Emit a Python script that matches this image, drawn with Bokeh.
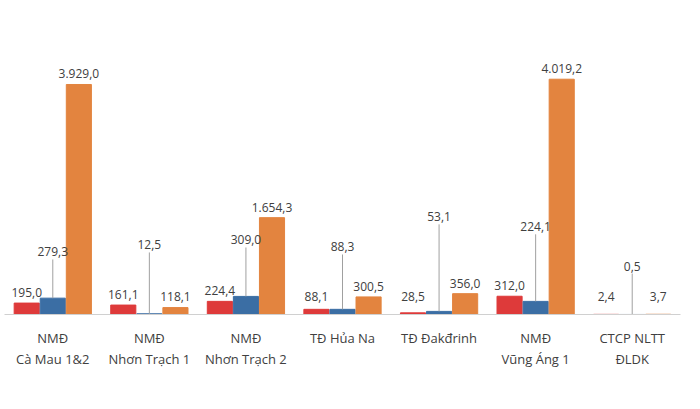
from bokeh.plotting import figure
from bokeh.models import ColumnDataSource, Label, Legend, LegendItem, FactorRange
from bokeh.transform import dodge
from bokeh.core.properties import value
from bokeh.embed import file_html
from bokeh.resources import INLINE

categories = ["NMĐ\nCà Mau 1&2", "NMĐ\nNhơn Trạch 1", "NMĐ\nNhơn Trạch 2", "TĐ Hủa Na",
              "TĐ Đakđrinh", "NMĐ\nVũng Áng 1", "CTCP NLTT\nĐLDK"]
ke_hoach = [195.0, 161.1, 224.4, 88.1, 28.5, 312.0, 2.4]
thuc_hien = [279.3, 12.5, 309.0, 88.3, 53.1, 224.1, 0.5]
luy_ke = [3929.0, 118.1, 1654.3, 300.5, 356.0, 4019.2, 3.7]
blue_label_y = [940, 1060, 1145, 1025, 1540, 1370, 700]

def fmt(v):
    s = f"{v:,.1f}"
    return s.replace(",", "X").replace(".", ",").replace("X", ".")

src = ColumnDataSource(dict(
    cat=categories, kh=ke_hoach, th=thuc_hien, lk=luy_ke,
    kh_t=[fmt(v) for v in ke_hoach], th_t=[fmt(v) for v in thuc_hien], lk_t=[fmt(v) for v in luy_ke],
    kh_y=[max(v, 120) for v in ke_hoach], lk_y=[max(v, 120) for v in luy_ke],
    bly=blue_label_y,
))

p = figure(x_range=FactorRange(*categories), y_range=(0, 4800), frame_width=676, frame_height=281,
           output_backend="svg", toolbar_location=None, min_border_top=33,
           min_border_left=4, min_border_right=4, min_border_bottom=0)
p.outline_line_color = None
p.grid.visible = False
p.yaxis.visible = False
p.xaxis.axis_line_color = "#d0d0d0"
p.xaxis.major_tick_line_color = None
p.xaxis.minor_tick_line_color = None
p.xaxis.major_label_text_font = "Open Sans"
p.xaxis.major_label_text_font_size = "13px"
p.xaxis.major_label_text_color = "#404040"
p.xaxis.major_label_standoff = 8
p.x_range.range_padding = 0.0

red, blue, orange = "#DE3A3A", "#3B6EA4", "#E3843F"
w = 0.26
r1 = p.vbar(x=dodge("cat", -0.27, range=p.x_range), top="kh", width=w, source=src, color=red)
r2 = p.vbar(x=dodge("cat", 0.0, range=p.x_range), top="th", width=w, source=src, color=blue)
r3 = p.vbar(x=dodge("cat", 0.27, range=p.x_range), top="lk", width=w, source=src, color=orange)

p.segment(x0="cat", y0="th", x1="cat", y1="bly", source=src, line_color="#a0a0a0", line_width=1)

tk = dict(text_font=value("Open Sans"), text_font_size="12px", text_color="#404040",
          text_align="center", text_baseline="bottom")
p.text(x=dodge("cat", -0.27, range=p.x_range), y="kh_y", text="kh_t", y_offset=-6, source=src, **tk)
p.text(x="cat", y="bly", text="th_t", y_offset=-3, source=src, **tk)
p.text(x=dodge("cat", 0.27, range=p.x_range), y="lk_y", text="lk_t", y_offset=-6, source=src, **tk)

legend = Legend(items=[LegendItem(label="Kế hoạch tháng", renderers=[r1]),
                       LegendItem(label="Thực hiện tháng", renderers=[r2]),
                       LegendItem(label="Lũy kế năm 2024", renderers=[r3])],
                orientation="horizontal", location="center", border_line_color=None,
                label_text_font="Open Sans", label_text_font_size="12px", label_text_color="#404040",
                glyph_width=10, glyph_height=10, spacing=22, padding=0, margin=6)
p.add_layout(legend, "below")

p.add_layout(Label(x=594, y=4800, x_units="screen", y_units="data", text="Đơn vị:",
                   text_font="Open Sans", text_font_style="italic", text_font_size="13px",
                   text_color="#1f3864", text_align="right"))
p.add_layout(Label(x=598, y=4800, x_units="screen", y_units="data", text="triệu kWh",
                   text_font="Open Sans", text_font_size="13px", text_color="#1f3864"))

open("out.html", "w").write(file_html(p, INLINE))
